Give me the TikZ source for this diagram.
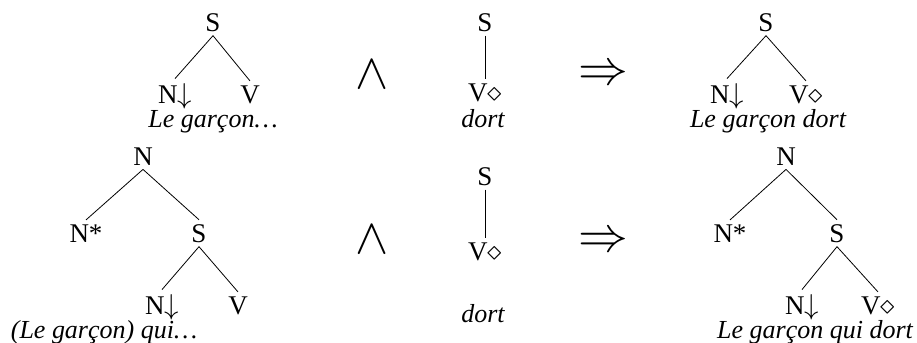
\documentclass[tikz,border=0pt]{standalone}
\usepackage{fontspec}
\setmainfont{Liberation Serif}
\tikzset{
  cat/.style={anchor=base, inner sep=2pt, font=\fontsize{13.5}{15}\selectfont},
  word/.style={anchor=base, inner sep=1pt, font=\fontsize{13}{15}\selectfont\itshape},
  op/.style={inner sep=0pt, font=\fontsize{24}{26}\selectfont}
}
\begin{document}
\begin{tikzpicture}[x=0.5pt, y=-0.5pt]
  \useasboundingbox (0,0) rectangle (917,343);
  % first line: substitution
  \node[cat] (t1s) at (213,31) {S};
  \node[cat] (t1n) at (175,103) {N$\downarrow$};
  \node[cat] (t1v) at (250,103) {V};
  \node[word] (t1w) at (213,127) {Le garçon\ldots};
  \draw (t1s.south) -- (t1n.north);
  \draw (t1s.south) -- (t1v.north);
  \node[op, font=\fontsize{34}{36}\selectfont] (and1) at (372,75) {$\wedge$};
  \node[cat] (t2s) at (485,31) {S};
  \node[cat] (t2v) at (485,101) {V$\diamond$};
  \node[word] (t2w) at (483,127) {dort};
  \draw (t2s.south) -- (t2v.north);
  \node[op] (imp1) at (603,75) {$\Rightarrow$};
  \node[cat] (t3s) at (766,31) {S};
  \node[cat] (t3n) at (727,103) {N$\downarrow$};
  \node[cat] (t3v) at (806,103) {V$\diamond$};
  \node[word] (t3w) at (768,127) {Le garçon dort};
  \draw (t3s.south) -- (t3n.north);
  \draw (t3s.south) -- (t3v.north);
  % second line: adjunction
  \node[cat] (t4n) at (143,165) {N};
  \node[cat] (t4f) at (86,242) {N*};
  \node[cat] (t4s) at (199,242) {S};
  \node[cat] (t4m) at (162,314) {N$\downarrow$};
  \node[cat] (t4v) at (238,314) {V};
  \node[word] (t4w) at (104,338) {(Le garçon) qui\ldots};
  \draw (t4n.south) -- (t4f.north);
  \draw (t4n.south) -- (t4s.north);
  \draw (t4s.south) -- (t4m.north);
  \draw (t4s.south) -- (t4v.north);
  \node[op, font=\fontsize{34}{36}\selectfont] (and2) at (372,240) {$\wedge$};
  \node[cat] (t5s) at (485,185) {S};
  \node[cat] (t5v) at (485,260) {V$\diamond$};
  \node[word] (t5w) at (483,322) {dort};
  \draw (t5s.south) -- (t5v.north);
  \node[op] (imp2) at (603,242) {$\Rightarrow$};
  \node[cat] (t6n) at (786,165) {N};
  \node[cat] (t6f) at (730,242) {N*};
  \node[cat] (t6s) at (837,242) {S};
  \node[cat] (t6m) at (802,314) {N$\downarrow$};
  \node[cat] (t6v) at (878,314) {V$\diamond$};
  \node[word] (t6w) at (815,338) {Le garçon qui dort};
  \draw (t6n.south) -- (t6f.north);
  \draw (t6n.south) -- (t6s.north);
  \draw (t6s.south) -- (t6m.north);
  \draw (t6s.south) -- (t6v.north);
\end{tikzpicture}
\end{document}
